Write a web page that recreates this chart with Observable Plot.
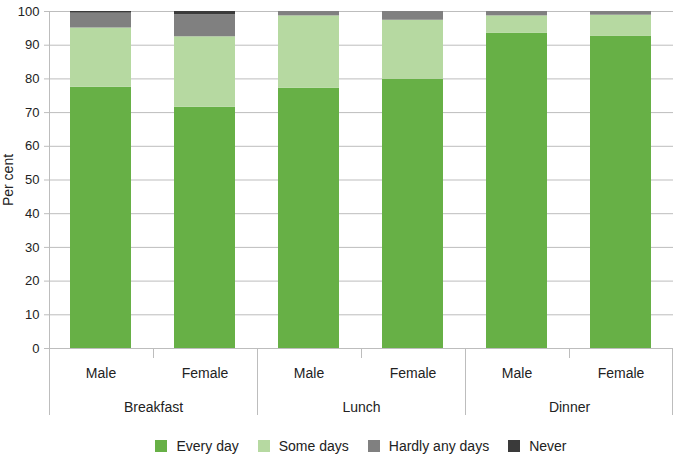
<!DOCTYPE html>
<html>
<head>
<meta charset="utf-8">
<script src="https://cdn.jsdelivr.net/npm/d3@7"></script>
<script src="https://cdn.jsdelivr.net/npm/@observablehq/plot@0.6"></script>
<style>
  body { margin: 0; background: #fff; font-family: "Liberation Sans", Arial, sans-serif; }
  #legend { display: flex; justify-content: center; align-items: center; padding-left: 49px; padding-right: 2px; height: 42px; font-size: 14px; color: #222; }
  #legend .item { display: flex; align-items: center; margin: 0 9.5px; }
  #legend .sw { width: 12px; height: 12px; margin-right: 9px; }
</style>
</head>
<body>
<div id="chart"></div>
<div id="legend"></div>
<script>
const meals = ["Breakfast", "Lunch", "Dinner"];
const sexes = ["Male", "Female"];
const responses = ["Every day", "Some days", "Hardly any days", "Never"];
const colors = ["#67b046", "#b6d9a1", "#808080", "#3a3a3a"];
// order: Breakfast M, Breakfast F, Lunch M, Lunch F, Dinner M, Dinner F
const everyDay = [77.5, 71.6, 77.2, 79.9, 93.5, 92.6];
const someDays = [17.6, 20.9, 21.5, 17.5, 5.2, 6.3];
const hardlyAnyDays = [4.4, 6.5, 1.3, 2.6, 1.3, 1.1];
const never = [0.5, 1.0, 0.0, 0.0, 0.0, 0.0];
const yTicks = [0, 10, 20, 30, 40, 50, 60, 70, 80, 90, 100];

const series = [everyDay, someDays, hardlyAnyDays, never];
const data = [];
responses.forEach((r, ri) => {
  meals.forEach((m, mi) => {
    sexes.forEach((s, si) => {
      data.push({meal: m, sex: s, response: r, value: series[ri][mi * 2 + si]});
    });
  });
});

const plot = Plot.plot({
  width: 675,
  height: 425,
  marginLeft: 49,
  marginRight: 2,
  marginTop: 11,
  marginBottom: 77,
  style: {fontFamily: "'Liberation Sans', Arial, sans-serif", fontSize: "14px", color: "#222"},
  fx: {domain: meals, padding: 0},
  x: {domain: sexes, paddingInner: 0.41, paddingOuter: 0.205},
  y: {domain: [0, 100]},
  color: {domain: responses, range: colors},
  marks: [
    Plot.gridY(yTicks, {stroke: "#bdbdbd", strokeOpacity: 1}),
    Plot.barY(data, {fx: "meal", x: "sex", y: "value", fill: "response", order: responses}),
    Plot.axisY({ticks: yTicks, tickSize: 5, tickPadding: 5, stroke: "#bdbdbd", strokeOpacity: 1, fill: "#222", fontSize: 13,
      label: "Per cent", labelAnchor: "center", labelArrow: "none", labelOffset: 46}),
    Plot.axisX({tickSize: 0, tickPadding: 20, label: null, fill: "#222"}),
    Plot.axisFx({anchor: "bottom", tickSize: 0, tickPadding: 54, label: null, fill: "#222"})
  ]
});

document.getElementById("chart").appendChild(plot);

const svg = d3.select(plot);
svg.selectAll("g[aria-label='y-axis label'] text").attr("font-size", 14);
svg.selectAll("g[aria-label='y-axis label']").attr("font-size", 14);

// separators and minor ticks, positioned from the facet scale
const fxs = plot.scale("fx");
const ys = plot.scale("y");
const y0 = ys.apply(0), yTop = ys.apply(100);
const g = svg.append("g").attr("stroke", "#bdbdbd").attr("stroke-width", 1);
meals.forEach((m, i) => {
  const left = Math.round(fxs.apply(m)) + 0.5;
  const mid = Math.round(fxs.apply(m) + fxs.bandwidth / 2) + 0.5;
  g.append("line").attr("x1", left).attr("x2", left).attr("y1", i === 0 ? yTop : y0).attr("y2", y0 + 67);
  g.append("line").attr("x1", mid).attr("x2", mid).attr("y1", y0).attr("y2", y0 + 10);
  if (i === meals.length - 1) {
    const right = Math.round(fxs.apply(m) + fxs.bandwidth) - 0.5;
    g.append("line").attr("x1", right).attr("x2", right).attr("y1", y0).attr("y2", y0 + 67);
  }
});
g.append("line").attr("x1", fxs.apply(meals[0])).attr("x2", fxs.apply(meals[2]) + fxs.bandwidth)
  .attr("y1", Math.round(y0) + 0.5).attr("y2", Math.round(y0) + 0.5);

const legend = d3.select("#legend");
responses.forEach((r, i) => {
  const it = legend.append("div").attr("class", "item");
  it.append("div").attr("class", "sw").style("background", colors[i]);
  it.append("span").text(r);
});
</script>
</body>
</html>
